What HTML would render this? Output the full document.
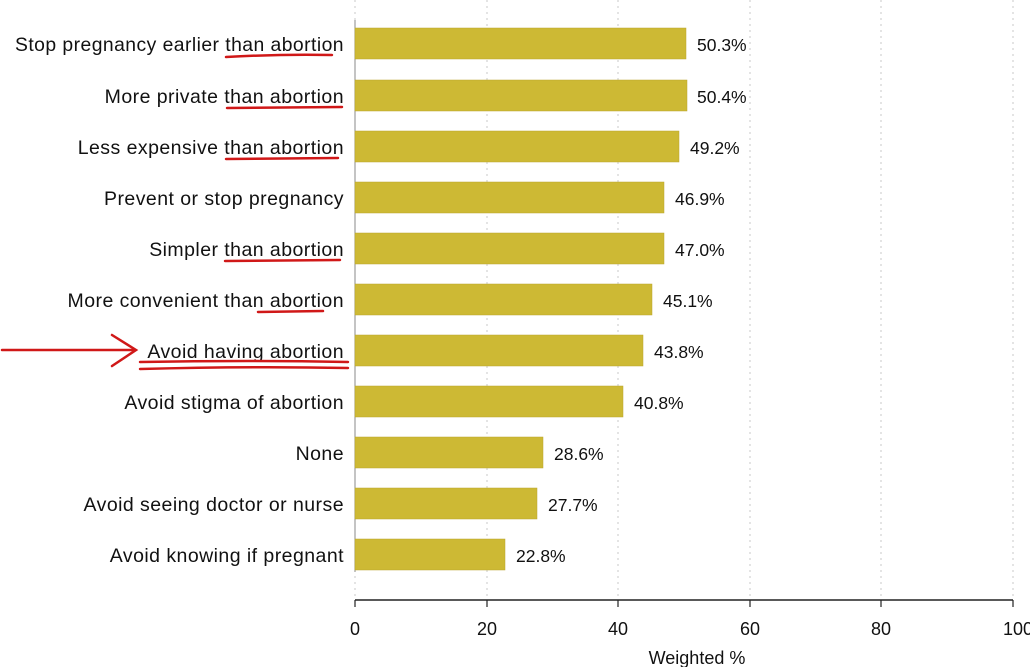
<!DOCTYPE html>
<html><head><meta charset="utf-8"><style>
html,body{margin:0;padding:0;background:#fff;}
svg{display:block;font-family:"Liberation Sans",Arial,sans-serif;}
</style></head><body>
<svg width="1030" height="667" viewBox="0 0 1030 667" xmlns="http://www.w3.org/2000/svg">
<rect width="1030" height="667" fill="#fff"/>
<g stroke="#c8c8c8" stroke-width="1" stroke-dasharray="2,4">
<line x1="355" y1="0" x2="355" y2="596"/>
<line x1="487" y1="0" x2="487" y2="596"/>
<line x1="618" y1="0" x2="618" y2="596"/>
<line x1="750" y1="0" x2="750" y2="596"/>
<line x1="881" y1="0" x2="881" y2="596"/>
<line x1="1013" y1="0" x2="1013" y2="596"/>
</g>
<line x1="355" y1="20" x2="355" y2="572" stroke="#888" stroke-width="1"/>
<g fill="#cdb934" stroke="#b9a52a" stroke-width="0.5">
<rect x="355" y="28" width="331" height="31"/>
<rect x="355" y="80" width="332" height="31"/>
<rect x="355" y="131" width="324" height="31"/>
<rect x="355" y="182" width="309" height="31"/>
<rect x="355" y="233" width="309" height="31"/>
<rect x="355" y="284" width="297" height="31"/>
<rect x="355" y="335" width="288" height="31"/>
<rect x="355" y="386" width="268" height="31"/>
<rect x="355" y="437" width="188" height="31"/>
<rect x="355" y="488" width="182" height="31"/>
<rect x="355" y="539" width="150" height="31"/>
</g>
<g font-size="19.5" fill="#111" text-anchor="end" letter-spacing="0.45">
<text x="344" y="51" textLength="329" lengthAdjust="spacingAndGlyphs">Stop pregnancy earlier than abortion</text>
<text x="344" y="103">More private than abortion</text>
<text x="344" y="154">Less expensive than abortion</text>
<text x="344" y="205">Prevent or stop pregnancy</text>
<text x="344" y="256">Simpler than abortion</text>
<text x="344" y="307">More convenient than abortion</text>
<text x="344" y="358">Avoid having abortion</text>
<text x="344" y="409">Avoid stigma of abortion</text>
<text x="344" y="460">None</text>
<text x="344" y="511">Avoid seeing doctor or nurse</text>
<text x="344" y="562">Avoid knowing if pregnant</text>
</g>
<g font-size="17.5" fill="#111">
<text x="697" y="51">50.3%</text>
<text x="697" y="103">50.4%</text>
<text x="690" y="154">49.2%</text>
<text x="675" y="205">46.9%</text>
<text x="675" y="256">47.0%</text>
<text x="663" y="307">45.1%</text>
<text x="654" y="358">43.8%</text>
<text x="634" y="409">40.8%</text>
<text x="554" y="460">28.6%</text>
<text x="548" y="511">27.7%</text>
<text x="516" y="562">22.8%</text>
</g>
<g stroke="#d01818" stroke-width="2.5" fill="none" stroke-linecap="round">
<path d="M226 57 Q280 54 332 55"/>
<path d="M227 108 L342 107"/>
<path d="M226 159 L338 158"/>
<path d="M225 261 L340 260"/>
<path d="M258 312 L323 311"/>
<path d="M140 362 Q250 360 348 362"/>
<path d="M140 369 Q250 366 348 368"/>
<path d="M2 350 L135 350"/>
<path d="M112 335 L136 350 L112 366"/>
</g>
<line x1="355" y1="600" x2="1013" y2="600" stroke="#222" stroke-width="1.5"/>
<g stroke="#222" stroke-width="1.2">
<line x1="355" y1="600" x2="355" y2="607"/>
<line x1="487" y1="600" x2="487" y2="607"/>
<line x1="618" y1="600" x2="618" y2="607"/>
<line x1="750" y1="600" x2="750" y2="607"/>
<line x1="881" y1="600" x2="881" y2="607"/>
<line x1="1013" y1="600" x2="1013" y2="607"/>
</g>
<g font-size="18" fill="#111" text-anchor="middle">
<text x="355" y="635">0</text>
<text x="487" y="635">20</text>
<text x="618" y="635">40</text>
<text x="750" y="635">60</text>
<text x="881" y="635">80</text>
<text x="1018" y="635">100</text>
<text x="697" y="664">Weighted %</text>
</g>
</svg>
</body></html>
